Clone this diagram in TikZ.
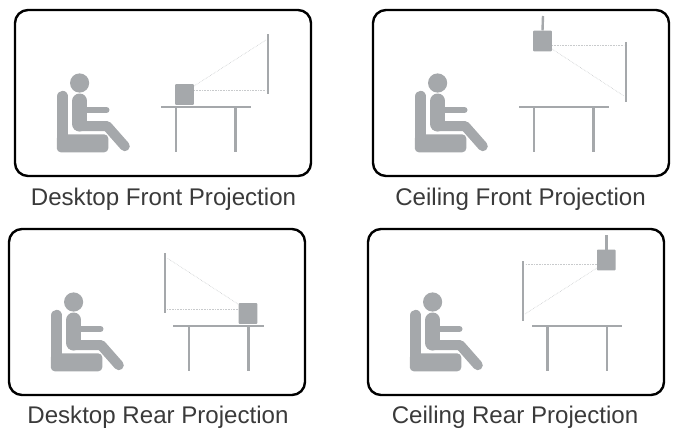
\documentclass[tikz,border=0pt]{standalone}
\usepackage{fontspec}
\setmainfont{Liberation Sans}
\usepackage{tikz}
\definecolor{figgray}{HTML}{A5A8AB}
\definecolor{dotgray}{HTML}{C8CACC}
\definecolor{captiondrk}{HTML}{3A3A3A}
\usetikzlibrary{positioning}
\tikzset{
	panel/.style={draw=black, line width=2.4pt, rounded corners=13pt},
	limb/.style={draw=figgray, line cap=round, line join=round},
	furniture/.style={draw=figgray, line width=2.4pt},
	projbox/.style={rectangle, fill=figgray, inner sep=0pt, minimum width=18.6pt, minimum height=20.6pt, rounded corners=0.7pt},
	screenbar/.style={rectangle, fill=figgray, inner sep=0pt, minimum width=2.2pt, minimum height=60pt},
	ray/.style={draw=dotgray, line width=0.6pt, densely dotted},
	caption/.style={text=captiondrk, font=\fontsize{24.1}{28}\selectfont, inner sep=0pt, anchor=base}
}

\begin{document}
\begin{tikzpicture}[x=1pt, y=-1pt]
		\useasboundingbox (0,0) rectangle (682,444);
		
		% panels with the seated figure
		\foreach \dx/\dy in {0/0, 358/0, -6/219, 353/219} {
			\begin{scope}[shift={(\dx,\dy)}]
				\draw[panel] (15,10) rectangle (311,176);
				\fill[figgray] (79.6,83) circle (9.6pt);
				\draw[limb, line width=11.6pt] (62.6,96.6) -- (62.6,146);
				\fill[figgray, rounded corners=4pt] (56.8,134.4) rectangle (108.3,152.3);
				\draw[limb, line width=15pt] (79.8,101) -- (79.8,124);
				\draw[limb, line width=10pt] (78,126) -- (107,126) -- (124.8,146.2);
				\draw[limb, line width=6pt] (85,110) -- (106.5,110);
			\end{scope}
		}
		
		% Desktop Front
		\node[projbox] (p1) at (184.5,94.5) {};
		\node[screenbar] (s1) at (268,64) {};
		\draw[furniture] (161,106.7) -- (251,106.7);
		\draw[furniture] (176,106.7) -- (176,152);
		\draw[furniture] (235.5,106.7) -- (235.5,152);
		\coordinate (a1) at (194,86);
		\coordinate (b1) at (194,90.5);
		\coordinate (c1) at (266,40);
		\coordinate (d1) at (266,90.5);
		\draw[ray] (a1) -- (c1);
		\draw[ray] (b1) -- (d1);
		
		% Ceiling Front
		\node[projbox] (p2) at (542.5,41) {};
		\node[screenbar] (s2) at (626,72) {};
		\draw[furniture] (543,16) -- (p2.north);
		\draw[furniture] (519,106.7) -- (609,106.7);
		\draw[furniture] (534,106.7) -- (534,152);
		\draw[furniture] (593.5,106.7) -- (593.5,152);
		\coordinate (a2) at (552,45);
		\coordinate (b2) at (552,49);
		\coordinate (c2) at (624,45);
		\coordinate (d2) at (624,96);
		\draw[ray] (a2) -- (c2);
		\draw[ray] (b2) -- (d2);
		
		% Desktop Rear
		\node[projbox] (p3) at (248,313.5) {};
		\node[screenbar] (s3) at (164.7,283) {};
		\draw[furniture] (173,325.7) -- (264,325.7);
		\draw[furniture] (189,325.7) -- (189,371);
		\draw[furniture] (248.3,325.7) -- (248.3,371);
		\coordinate (a3) at (238,304);
		\coordinate (b3) at (238,309.5);
		\coordinate (c3) at (167,258);
		\coordinate (d3) at (167,309.5);
		\draw[ray] (a3) -- (c3);
		\draw[ray] (b3) -- (d3);
		
		% Ceiling Rear
		\node[projbox] (p4) at (606.3,260) {};
		\node[screenbar] (s4) at (522.7,290.7) {};
		\draw[furniture] (606.3,235) -- (p4.north);
		\draw[furniture] (532,325.7) -- (622,325.7);
		\draw[furniture] (547.3,325.7) -- (547.3,371);
		\draw[furniture] (606.7,325.7) -- (606.7,371);
		\coordinate (a4) at (597,264);
		\coordinate (b4) at (597,268);
		\coordinate (c4) at (525,264);
		\coordinate (d4) at (525,314);
		\draw[ray] (a4) -- (c4);
		\draw[ray] (b4) -- (d4);
		
		% captions
		\node[caption] (t1) at (163.5,205) {Desktop Front Projection};
		\node[caption] (t2) at (520.5,205) {Ceiling Front Projection};
		\node[caption] (t3) at (158,423) {Desktop Rear Projection};
		\node[caption] (t4) at (515,423) {Ceiling Rear Projection};
	\end{tikzpicture}
\end{document}
